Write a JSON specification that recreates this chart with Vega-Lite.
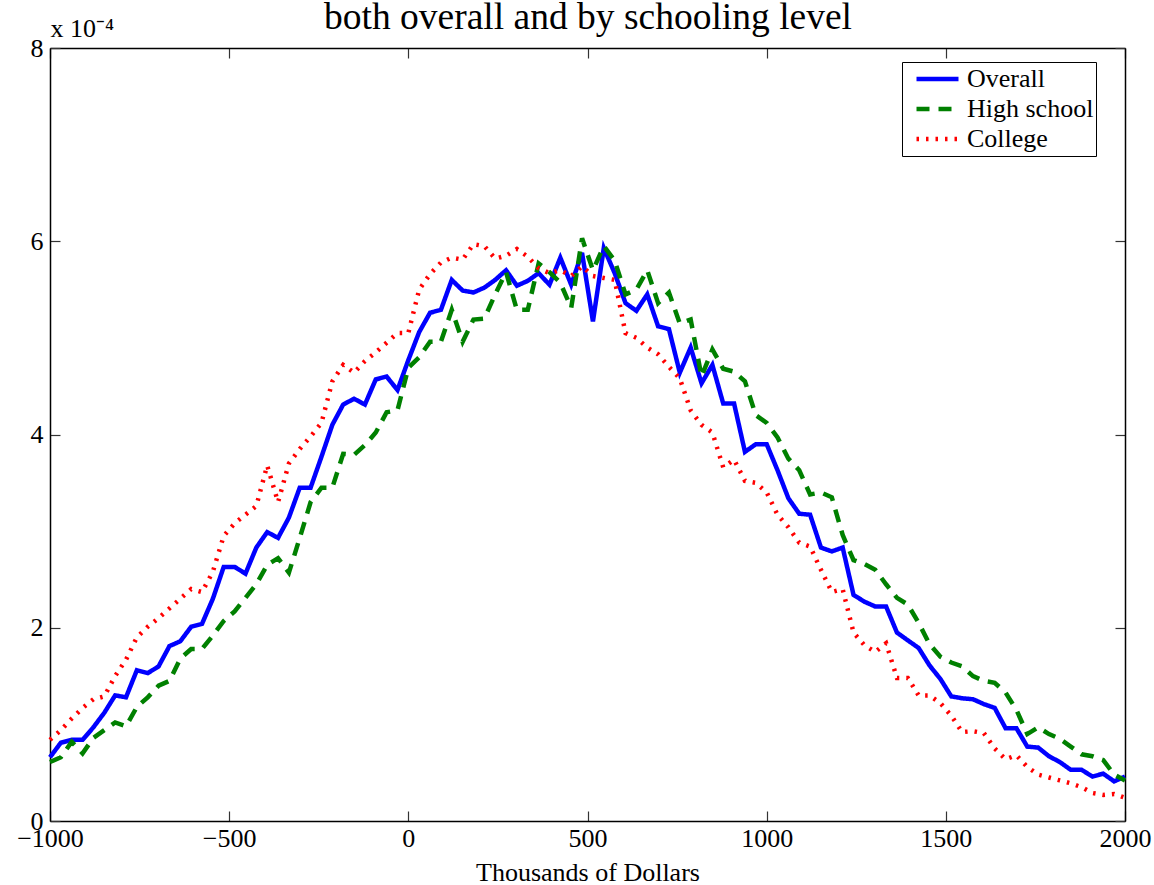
{
  "$schema": "https://vega.github.io/schema/vega-lite/v6.json",
  "autosize": {"type": "none"},
  "padding": {"left": 50, "top": 48, "right": 29, "bottom": 64},
  "width": 1075,
  "height": 773,
  "background": "white",
  "config": {
    "view": {"stroke": null},
    "axis": {"labelFont": "Liberation Serif", "labelFontSize": 26, "labelColor": "black", "titleFont": "Liberation Serif", "titleFontSize": 26, "titleFontWeight": "normal", "titleColor": "black", "domainColor": "black", "domainWidth": 1.5, "tickColor": "#333333", "tickWidth": 1.2, "tickSize": -10, "grid": false}
  },
  "data": {"values": [
    {"x": -1000, "Overall": 0.66, "High school": 0.61, "College": 0.84},
    {"x": -969.7, "Overall": 0.81, "High school": 0.66, "College": 0.94},
    {"x": -939.4, "Overall": 0.84, "High school": 0.82, "College": 1.06},
    {"x": -909.1, "Overall": 0.84, "High school": 0.70, "College": 1.17},
    {"x": -878.8, "Overall": 0.97, "High school": 0.86, "College": 1.26},
    {"x": -848.5, "Overall": 1.12, "High school": 0.94, "College": 1.29},
    {"x": -818.2, "Overall": 1.30, "High school": 1.02, "College": 1.50},
    {"x": -787.9, "Overall": 1.28, "High school": 0.98, "College": 1.67},
    {"x": -757.6, "Overall": 1.56, "High school": 1.18, "College": 1.90},
    {"x": -727.3, "Overall": 1.53, "High school": 1.28, "College": 2.01},
    {"x": -697, "Overall": 1.60, "High school": 1.40, "College": 2.10},
    {"x": -666.7, "Overall": 1.81, "High school": 1.45, "College": 2.20},
    {"x": -636.4, "Overall": 1.86, "High school": 1.68, "College": 2.30},
    {"x": -606.1, "Overall": 2.01, "High school": 1.78, "College": 2.40},
    {"x": -575.8, "Overall": 2.04, "High school": 1.78, "College": 2.37},
    {"x": -545.5, "Overall": 2.30, "High school": 1.92, "College": 2.58},
    {"x": -515.2, "Overall": 2.63, "High school": 2.07, "College": 2.95},
    {"x": -484.8, "Overall": 2.63, "High school": 2.17, "College": 3.08},
    {"x": -454.5, "Overall": 2.56, "High school": 2.31, "College": 3.17},
    {"x": -424.2, "Overall": 2.83, "High school": 2.45, "College": 3.26},
    {"x": -393.9, "Overall": 2.99, "High school": 2.65, "College": 3.68},
    {"x": -363.6, "Overall": 2.93, "High school": 2.72, "College": 3.30},
    {"x": -333.3, "Overall": 3.14, "High school": 2.57, "College": 3.70},
    {"x": -303, "Overall": 3.45, "High school": 2.93, "College": 3.85},
    {"x": -272.7, "Overall": 3.45, "High school": 3.30, "College": 3.98},
    {"x": -242.4, "Overall": 3.77, "High school": 3.45, "College": 4.12},
    {"x": -212.1, "Overall": 4.10, "High school": 3.45, "College": 4.55},
    {"x": -181.8, "Overall": 4.31, "High school": 3.80, "College": 4.72},
    {"x": -151.5, "Overall": 4.37, "High school": 3.79, "College": 4.64},
    {"x": -121.2, "Overall": 4.31, "High school": 3.89, "College": 4.76},
    {"x": -90.9, "Overall": 4.57, "High school": 4.02, "College": 4.85},
    {"x": -60.6, "Overall": 4.60, "High school": 4.23, "College": 4.95},
    {"x": -30.3, "Overall": 4.46, "High school": 4.25, "College": 5.05},
    {"x": 0, "Overall": 4.77, "High school": 4.69, "College": 5.05},
    {"x": 30.3, "Overall": 5.06, "High school": 4.80, "College": 5.50},
    {"x": 60.6, "Overall": 5.26, "High school": 4.96, "College": 5.66},
    {"x": 90.9, "Overall": 5.29, "High school": 4.96, "College": 5.78},
    {"x": 121.2, "Overall": 5.60, "High school": 5.29, "College": 5.83},
    {"x": 151.5, "Overall": 5.49, "High school": 4.96, "College": 5.81},
    {"x": 181.8, "Overall": 5.47, "High school": 5.19, "College": 5.97},
    {"x": 212.1, "Overall": 5.52, "High school": 5.20, "College": 5.95},
    {"x": 242.4, "Overall": 5.60, "High school": 5.45, "College": 5.82},
    {"x": 272.7, "Overall": 5.70, "High school": 5.68, "College": 5.85},
    {"x": 303, "Overall": 5.54, "High school": 5.29, "College": 5.92},
    {"x": 333.3, "Overall": 5.59, "High school": 5.29, "College": 5.84},
    {"x": 363.6, "Overall": 5.67, "High school": 5.77, "College": 5.72},
    {"x": 393.9, "Overall": 5.55, "High school": 5.68, "College": 5.67},
    {"x": 424.2, "Overall": 5.83, "High school": 5.57, "College": 5.70},
    {"x": 454.5, "Overall": 5.55, "High school": 5.31, "College": 5.64},
    {"x": 484.8, "Overall": 5.88, "High school": 6.03, "College": 5.74},
    {"x": 515.2, "Overall": 5.17, "High school": 5.70, "College": 5.64},
    {"x": 545.5, "Overall": 5.93, "High school": 5.95, "College": 5.62},
    {"x": 575.8, "Overall": 5.67, "High school": 5.80, "College": 5.60},
    {"x": 606.1, "Overall": 5.36, "High school": 5.45, "College": 5.05},
    {"x": 636.4, "Overall": 5.28, "High school": 5.50, "College": 5.00},
    {"x": 666.7, "Overall": 5.45, "High school": 5.70, "College": 4.90},
    {"x": 697, "Overall": 5.12, "High school": 5.36, "College": 4.83},
    {"x": 727.3, "Overall": 5.09, "High school": 5.47, "College": 4.70},
    {"x": 757.6, "Overall": 4.64, "High school": 5.15, "College": 4.58},
    {"x": 787.9, "Overall": 4.90, "High school": 5.19, "College": 4.25},
    {"x": 818.2, "Overall": 4.53, "High school": 4.60, "College": 4.10},
    {"x": 848.5, "Overall": 4.72, "High school": 4.88, "College": 4.02},
    {"x": 878.8, "Overall": 4.32, "High school": 4.68, "College": 3.66},
    {"x": 909.1, "Overall": 4.32, "High school": 4.65, "College": 3.74},
    {"x": 939.4, "Overall": 3.82, "High school": 4.55, "College": 3.52},
    {"x": 969.7, "Overall": 3.90, "High school": 4.20, "College": 3.50},
    {"x": 1000, "Overall": 3.90, "High school": 4.12, "College": 3.40},
    {"x": 1030.3, "Overall": 3.63, "High school": 3.97, "College": 3.17},
    {"x": 1060.6, "Overall": 3.34, "High school": 3.75, "College": 3.04},
    {"x": 1090.9, "Overall": 3.18, "High school": 3.63, "College": 2.88},
    {"x": 1121.2, "Overall": 3.17, "High school": 3.38, "College": 2.84},
    {"x": 1151.5, "Overall": 2.83, "High school": 3.40, "College": 2.60},
    {"x": 1181.8, "Overall": 2.79, "High school": 3.35, "College": 2.37},
    {"x": 1212.1, "Overall": 2.83, "High school": 2.96, "College": 2.40},
    {"x": 1242.4, "Overall": 2.34, "High school": 2.70, "College": 1.95},
    {"x": 1272.7, "Overall": 2.27, "High school": 2.66, "College": 1.82},
    {"x": 1303, "Overall": 2.22, "High school": 2.60, "College": 1.75},
    {"x": 1333.3, "Overall": 2.22, "High school": 2.45, "College": 1.84},
    {"x": 1363.6, "Overall": 1.95, "High school": 2.31, "College": 1.48},
    {"x": 1393.9, "Overall": 1.87, "High school": 2.24, "College": 1.48},
    {"x": 1424.2, "Overall": 1.79, "High school": 2.05, "College": 1.30},
    {"x": 1454.5, "Overall": 1.61, "High school": 1.83, "College": 1.30},
    {"x": 1484.8, "Overall": 1.47, "High school": 1.70, "College": 1.22},
    {"x": 1515.2, "Overall": 1.29, "High school": 1.64, "College": 1.09},
    {"x": 1545.5, "Overall": 1.27, "High school": 1.60, "College": 0.92},
    {"x": 1575.8, "Overall": 1.26, "High school": 1.50, "College": 0.93},
    {"x": 1606.1, "Overall": 1.21, "High school": 1.45, "College": 0.91},
    {"x": 1636.4, "Overall": 1.17, "High school": 1.43, "College": 0.75},
    {"x": 1666.7, "Overall": 0.96, "High school": 1.33, "College": 0.64},
    {"x": 1697, "Overall": 0.96, "High school": 1.15, "College": 0.68},
    {"x": 1727.3, "Overall": 0.77, "High school": 0.90, "College": 0.56},
    {"x": 1757.6, "Overall": 0.76, "High school": 0.97, "College": 0.48},
    {"x": 1787.9, "Overall": 0.67, "High school": 0.90, "College": 0.45},
    {"x": 1818.2, "Overall": 0.61, "High school": 0.85, "College": 0.42},
    {"x": 1848.5, "Overall": 0.53, "High school": 0.77, "College": 0.39},
    {"x": 1878.8, "Overall": 0.53, "High school": 0.69, "College": 0.35},
    {"x": 1909.1, "Overall": 0.46, "High school": 0.67, "College": 0.29},
    {"x": 1939.4, "Overall": 0.49, "High school": 0.63, "College": 0.27},
    {"x": 1969.7, "Overall": 0.41, "High school": 0.48, "College": 0.28},
    {"x": 2000, "Overall": 0.46, "High school": 0.42, "College": 0.24}
  ]},
  "transform": [{"fold": ["Overall", "High school", "College"], "as": ["series", "value"]}],
  "layer": [
    {
      "mark": {"type": "line", "strokeCap": "butt", "strokeJoin": "miter"},
      "encoding": {
        "x": {"field": "x", "type": "quantitative", "scale": {"domain": [-1000, 2000], "nice": false, "zero": false},
              "axis": {"orient": "bottom", "values": [-1000, -500, 0, 500, 1000, 1500, 2000], "format": "d", "title": "Thousands of Dollars", "labelPadding": 14, "titlePadding": 8, "labelFlush": false}},
        "y": {"field": "value", "type": "quantitative", "scale": {"domain": [0, 8], "nice": false},
              "axis": {"orient": "left", "values": [0, 2, 4, 6, 8], "format": "d", "title": "x 10⁻⁴", "titleAngle": 0, "titleAlign": "left", "titleBaseline": "alphabetic", "titleX": 0, "titleY": -12, "labelPadding": 17}},
        "color": {"field": "series", "type": "nominal",
                  "scale": {"domain": ["Overall", "High school", "College"], "range": ["#0000ff", "#008000", "#ff0000"]},
                  "legend": {"title": null, "orient": "none", "legendX": 852, "legendY": 14, "fillColor": "white", "strokeColor": "black", "padding": 2, "clipHeight": 30, "symbolType": "stroke", "symbolSize": 1764, "symbolOffset": 10, "labelFont": "Liberation Serif", "labelFontSize": 26, "labelColor": "black", "labelOffset": 6, "rowPadding": 0, "labelExpr": "datum.label + '\u00a0\u00a0'"}},
        "strokeDash": {"field": "series", "type": "nominal",
                  "scale": {"domain": ["Overall", "High school", "College"], "range": [[1, 0], [13, 9], [2.5, 7]]}},
        "strokeWidth": {"field": "series", "type": "nominal",
                  "scale": {"domain": ["Overall", "High school", "College"], "range": [4.5, 4.5, 1.3]}}
      }
    },
    {
      "mark": {"type": "point", "opacity": 0},
      "encoding": {
        "x": {"field": "x", "type": "quantitative", "scale": {"domain": [-1000, 2000], "nice": false, "zero": false},
              "axis": {"orient": "top", "values": [-1000, -500, 0, 500, 1000, 1500, 2000], "labels": false, "title": "both overall and by schooling level", "titleFontSize": 37.5, "titleAngle": 0, "titleAlign": "center", "titleBaseline": "alphabetic", "titleX": 537.5, "titleY": -20}},
        "y": {"field": "value", "type": "quantitative", "scale": {"domain": [0, 8], "nice": false},
              "axis": {"orient": "right", "values": [0, 2, 4, 6, 8], "labels": false, "title": null}}
      }
    }
  ],
  "resolve": {"scale": {"x": "independent", "y": "independent"}}
}
